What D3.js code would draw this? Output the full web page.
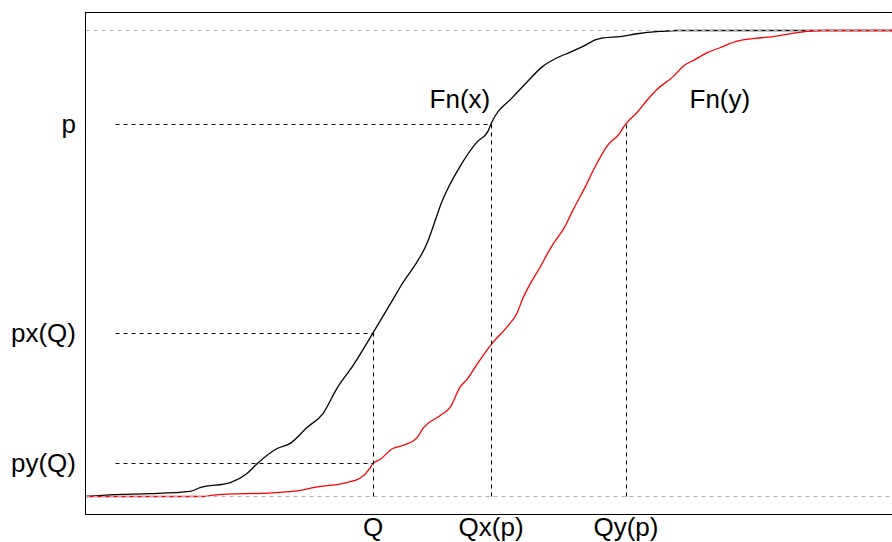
<!DOCTYPE html>
<html>
<head>
<meta charset="utf-8">
<script src="https://cdn.jsdelivr.net/npm/d3@7"></script>
<style>
  html, body { margin: 0; padding: 0; background: #fff; }
  svg { display: block; }
  text { font-family: "Liberation Sans", Arial, sans-serif; }
</style>
</head>
<body>
<svg id="chart" width="892" height="542"></svg>
<script>
// ECDF of sample x (black) — [value, cumulative probability]
const fnX = [
  [0, 0], [3.5, 0.004], [7.8, 0.006], [12.7, 0.011], [13.9, 0.019], [17.6, 0.030],
  [19.6, 0.049], [20.9, 0.071], [23.3, 0.103], [24.9, 0.114], [26.95, 0.148],
  [28.9, 0.178], [30.6, 0.232], [32.6, 0.282], [35.0, 0.351], [37.4, 0.422],
  [38.3, 0.449], [41.6, 0.544], [43.5, 0.637], [45.6, 0.708], [47.7, 0.761],
  [49.0, 0.783], [49.4, 0.800], [52.1, 0.858], [53.7, 0.888], [55.7, 0.923],
  [57.4, 0.941], [59.0, 0.953], [60.6, 0.966], [62.3, 0.981], [63.05, 0.984],
  [65.1, 0.987], [67.2, 0.993], [70.0, 0.998], [72.1, 1], [100, 1]
];
// ECDF of sample y (red)
const fnY = [
  [0, 0], [14.3, 0], [15.5, 0.003], [23.7, 0.009], [26.1, 0.013], [27.7, 0.019],
  [31.8, 0.030], [33.4, 0.039], [34.6, 0.060], [35.0, 0.071], [35.9, 0.080],
  [37.4, 0.103], [38.7, 0.110], [40.4, 0.127], [41.1, 0.146], [43.2, 0.174],
  [44.4, 0.191], [45.6, 0.234], [46.5, 0.252], [47.7, 0.284], [49.5, 0.328],
  [51.3, 0.363], [52.6, 0.395], [53.2, 0.422], [55.4, 0.493], [56.9, 0.540],
  [58.4, 0.579], [59.4, 0.615], [60.9, 0.665], [62.1, 0.708], [63.5, 0.751],
  [65.1, 0.780], [65.85, 0.800], [67.2, 0.824], [68.5, 0.852], [69.6, 0.873],
  [71.6, 0.901], [72.8, 0.923], [74.3, 0.938], [75.7, 0.952], [77.3, 0.963],
  [79.4, 0.977], [81.6, 0.983], [83.8, 0.987], [87.9, 0.998], [89.9, 1], [100, 1]
];
// Annotation values
const pLevel = 0.8;
const qValue = 35.0;
const pxQ = 0.351;
const pyQ = 0.071;
const qxP = 49.4;
const qyP = 65.85;
const yLabels = [
  { label: "p", value: pLevel },
  { label: "px(Q)", value: pxQ },
  { label: "py(Q)", value: pyQ }
];
const xLabels = [
  { label: "Q", value: qValue },
  { label: "Qx(p)", value: qxP },
  { label: "Qy(p)", value: qyP }
];
const curveLabels = [
  { label: "Fn(x)", x: 45.6, y: 0.835 },
  { label: "Fn(y)", x: 77.3, y: 0.835 }
];

(function () {
const svg = d3.select("#chart");
const boxL = 85.5, boxT = 12.5, boxB = 514.5, boxR = 990;
const x = d3.scaleLinear().domain([0, 100]).range([86, 906]);
const y = d3.scaleLinear().domain([0, 1]).range([496.5, 30.5]);

svg.append("defs").append("clipPath").attr("id", "clip")
  .append("rect").attr("x", boxL).attr("y", boxT).attr("width", boxR - boxL).attr("height", boxB - boxT);

const g = svg.append("g").attr("clip-path", "url(#clip)");
const line = d3.line().x(d => x(d[0])).y(d => y(d[1])).curve(d3.curveMonotoneX);

g.append("path").datum(fnX).attr("d", line)
  .attr("fill", "none").attr("stroke", "#000").attr("stroke-width", 1.3);
g.append("path").datum(fnY).attr("d", line)
  .attr("fill", "none").attr("stroke", "#ff0000").attr("stroke-width", 1.3);

// 0 and 1 reference lines
[0, 1].forEach(v => {
  g.append("line")
    .attr("x1", boxL).attr("x2", 892)
    .attr("y1", y(v)).attr("y2", y(v))
    .attr("stroke", "#b3b3b3").attr("stroke-width", 1.2)
    .attr("stroke-dasharray", "4,4");
});

// annotation dashed lines
const dash = "4,4";
const hStart = x(3.6);
const annH = [[pLevel, qxP], [pxQ, qValue], [pyQ, qValue]];
annH.forEach(([pv, qv]) => {
  g.append("line").attr("x1", hStart).attr("x2", x(qv))
    .attr("y1", Math.round(y(pv)) + 0.5).attr("y2", Math.round(y(pv)) + 0.5)
    .attr("stroke", "#000").attr("stroke-width", 1.1).attr("stroke-dasharray", dash);
});
const annV = [[qValue, pxQ], [qxP, pLevel], [qyP, pLevel]];
annV.forEach(([qv, pv]) => {
  g.append("line").attr("x1", Math.round(x(qv)) + 0.5).attr("x2", Math.round(x(qv)) + 0.5)
    .attr("y1", y(0)).attr("y2", y(pv))
    .attr("stroke", "#000").attr("stroke-width", 1.1).attr("stroke-dasharray", dash);
});

// box
svg.append("rect").attr("x", boxL).attr("y", boxT)
  .attr("width", boxR - boxL).attr("height", boxB - boxT)
  .attr("fill", "none").attr("stroke", "#000").attr("stroke-width", 1);

// labels
svg.selectAll("text.ylab").data(yLabels).join("text")
  .attr("class", "ylab")
  .attr("x", 76).attr("y", d => y(d.value) + 9)
  .attr("text-anchor", "end").attr("font-size", 26).attr("fill", "#000")
  .text(d => d.label);
svg.selectAll("text.xlab").data(xLabels).join("text")
  .attr("class", "xlab")
  .attr("x", d => x(d.value)).attr("y", 536)
  .attr("text-anchor", "middle").attr("font-size", 26).attr("fill", "#000")
  .text(d => d.label);
svg.selectAll("text.clab").data(curveLabels).join("text")
  .attr("class", "clab")
  .attr("x", d => x(d.x)).attr("y", d => y(d.y) + 1)
  .attr("text-anchor", "middle").attr("font-size", 26).attr("fill", "#000")
  .text(d => d.label);
})();
</script>
</body>
</html>
